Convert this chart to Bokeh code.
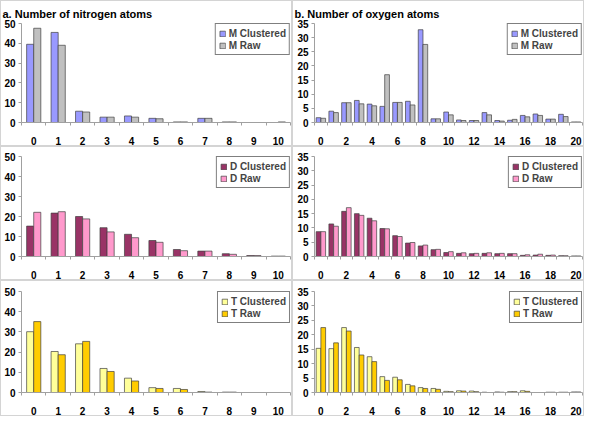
from bokeh.plotting import figure
from bokeh.models import Range1d, FixedTicker, Legend, LegendItem, ColumnDataSource, Title
from bokeh.layouts import column, row
from bokeh.embed import file_html
from bokeh.resources import INLINE
from bokeh.transform import dodge

# ---------------- data ----------------
n_atoms = list(range(11))   # nitrogen atom counts
o_atoms = list(range(21))   # oxygen atom counts

n_tick_labels = [str(i) for i in range(11)]
o_tick_labels = [str(i) for i in range(0, 21, 2)]

# a. nitrogen
m_n_clustered = [39.5, 45.5, 5.7, 2.7, 3.3, 2.1, 0.3, 2.1, 0.3, 0.0, 0.0]
m_n_raw       = [47.6, 39.0, 5.3, 2.7, 2.7, 1.9, 0.3, 2.1, 0.3, 0.0, 0.3]
d_n_clustered = [15.2, 21.7, 20.0, 14.4, 11.1, 8.0, 3.5, 2.7, 1.4, 0.5, 0.2]
d_n_raw       = [22.1, 22.4, 18.8, 12.3, 9.4, 7.1, 2.9, 2.7, 1.1, 0.5, 0.2]
t_n_clustered = [30.1, 20.3, 24.1, 11.9, 7.1, 2.4, 2.0, 0.5, 0.2, 0.0, 0.0]
t_n_raw       = [35.1, 18.7, 25.3, 10.4, 5.7, 2.0, 1.5, 0.2, 0.2, 0.0, 0.0]

# b. oxygen
m_o_clustered = [1.7, 4.0, 7.0, 7.8, 6.5, 5.7, 7.1, 7.5, 32.8, 1.3, 3.7,
                 0.9, 0.7, 3.5, 0.7, 0.8, 2.5, 3.0, 1.2, 2.9, 0.2]
m_o_raw       = [1.5, 3.5, 7.0, 6.6, 5.9, 16.9, 7.1, 6.2, 27.6, 1.3, 2.7,
                 0.7, 0.7, 2.7, 0.5, 1.1, 2.0, 2.5, 1.2, 2.1, 0.2]
d_o_clustered = [8.7, 11.4, 15.8, 15.0, 13.4, 9.8, 7.3, 4.7, 3.7, 2.4, 1.4,
                 1.1, 1.0, 1.1, 1.0, 1.0, 0.4, 0.5, 0.4, 0.3, 0.2]
d_o_raw       = [8.7, 10.6, 17.1, 14.4, 12.5, 9.7, 7.0, 4.9, 4.0, 2.5, 1.7,
                 1.3, 1.1, 1.3, 1.1, 1.0, 0.6, 0.8, 0.5, 0.3, 0.2]
t_o_clustered = [15.3, 15.2, 22.5, 15.6, 12.4, 5.5, 5.3, 2.8, 1.7, 1.4, 0.4,
                 0.6, 0.5, 0.1, 0.2, 0.3, 0.6, 0.0, 0.1, 0.1, 0.2]
t_o_raw       = [22.5, 17.2, 21.3, 13.0, 10.7, 4.2, 4.4, 2.3, 1.4, 1.1, 0.3,
                 0.5, 0.3, 0.0, 0.1, 0.3, 0.4, 0.0, 0.1, 0.1, 0.2]

FONT = "Liberation Sans"


def panel(cats, clu, raw, labels, colors, ymax, ystep, xticks, width, height,
          bar_w, border_left, border_top, title=None):
    p = figure(width=width, height=height, output_backend="svg", toolbar_location=None,
               x_range=Range1d(-0.5, len(cats) - 0.5), y_range=Range1d(0, ymax),
               min_border_left=border_left, min_border_right=3,
               min_border_top=border_top, min_border_bottom=0,
               styles={"border": "1px solid #d4d4d4", "box-sizing": "border-box"})
    p.outline_line_color = None
    p.xgrid.grid_line_color = None
    p.ygrid.grid_line_color = None
    p.background_fill_color = "white"
    if title is not None:
        t = Title(text=title, align="left", offset=-border_left + 1,
                  text_font=FONT, text_font_style="bold", text_font_size="11px",
                  standoff=8, text_color="black")
        p.add_layout(t, "above")

    src = ColumnDataSource(dict(x=cats, c=clu, r=raw))
    r1 = p.vbar(x=dodge("x", -bar_w / 2, range=p.x_range), top="c", width=bar_w,
                source=src, fill_color=colors[0], line_color="#404040", line_width=0.7)
    r2 = p.vbar(x=dodge("x", bar_w / 2, range=p.x_range), top="r", width=bar_w,
                source=src, fill_color=colors[1], line_color="#404040", line_width=0.7)

    # axes
    p.xaxis.ticker = FixedTicker(ticks=xticks,
                                 minor_ticks=[i - 0.5 for i in range(len(cats) + 1)])
    p.xaxis.major_tick_line_color = None
    p.xaxis.minor_tick_out = 3
    p.xaxis.minor_tick_in = 0
    p.xaxis.minor_tick_line_color = "#a0a0a0"
    p.xaxis.axis_line_color = "#a0a0a0"
    p.xaxis.major_label_standoff = 8
    p.yaxis.ticker = FixedTicker(ticks=list(range(0, ymax + 1, ystep)))
    p.yaxis.minor_tick_line_color = None
    p.yaxis.major_tick_out = 3
    p.yaxis.major_tick_in = 0
    p.yaxis.major_tick_line_color = "#a0a0a0"
    p.yaxis.axis_line_color = "#a0a0a0"
    p.yaxis.major_label_standoff = 3
    for ax in (p.xaxis, p.yaxis):
        ax.major_label_text_font = FONT
        ax.major_label_text_font_style = "bold"
        ax.major_label_text_font_size = "10px"
        ax.major_label_text_color = "black"

    leg = Legend(items=[LegendItem(label=labels[0], renderers=[r1]),
                        LegendItem(label=labels[1], renderers=[r2])],
                 location="top_right")
    leg.margin = 0
    leg.padding = 3
    leg.spacing = 0
    leg.border_line_color = "black"
    leg.border_line_width = 1
    leg.background_fill_color = "white"
    leg.background_fill_alpha = 1
    leg.glyph_width = 7
    leg.glyph_height = 7
    leg.label_height = 12
    leg.label_standoff = 3
    leg.label_text_font = FONT
    leg.label_text_font_style = "bold"
    leg.label_text_font_size = "10px"
    leg.label_text_baseline = "middle"
    p.add_layout(leg)
    return p


M_COL = ("#9999FF", "#C0C0C0")
D_COL = ("#993366", "#FF99CC")
T_COL = ("#FFFF99", "#FFCC00")

LW, RW = 292, 292
H_TOP, H_MID, H_BOT = 146, 134, 136

a1 = panel(n_atoms, m_n_clustered, m_n_raw, ("M Clustered", "M Raw"), M_COL, 50, 10,
           n_atoms, LW, H_TOP, 0.29, 20, 8, title="a. Number of nitrogen atoms")
a2 = panel(n_atoms, d_n_clustered, d_n_raw, ("D Clustered", "D Raw"), D_COL, 50, 10,
           n_atoms, LW, H_MID, 0.29, 20, 9)
a3 = panel(n_atoms, t_n_clustered, t_n_raw, ("T Clustered", "T Raw"), T_COL, 50, 10,
           n_atoms, LW, H_BOT, 0.29, 20, 10)

b1 = panel(o_atoms, m_o_clustered, m_o_raw, ("M Clustered", "M Raw"), M_COL, 35, 5,
           list(range(0, 21, 2)), RW, H_TOP, 0.37, 21, 8, title="b. Number of oxygen atoms")
b2 = panel(o_atoms, d_o_clustered, d_o_raw, ("D Clustered", "D Raw"), D_COL, 35, 5,
           list(range(0, 21, 2)), RW, H_MID, 0.37, 21, 9)
b3 = panel(o_atoms, t_o_clustered, t_o_raw, ("T Clustered", "T Raw"), T_COL, 35, 5,
           list(range(0, 21, 2)), RW, H_BOT, 0.37, 21, 10)

layout = row(column(a1, a2, a3, spacing=0), column(b1, b2, b3, spacing=0), spacing=0)

open("out.html", "w").write(file_html(layout, INLINE))
